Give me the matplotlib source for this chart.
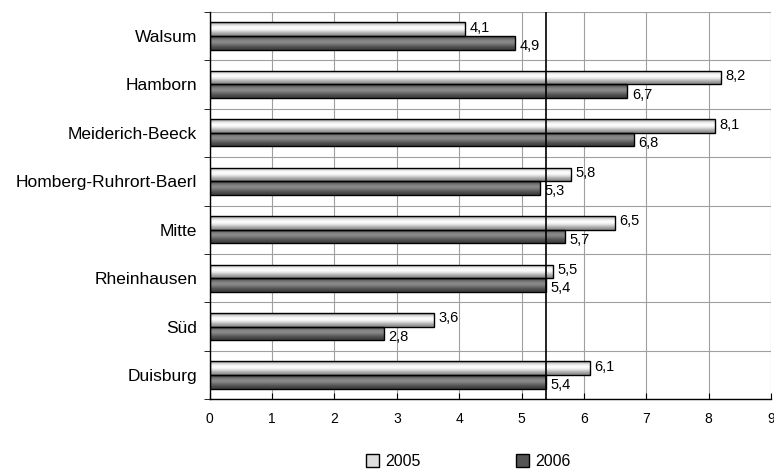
import matplotlib.pyplot as plt
from matplotlib.patches import Patch
import numpy as np

plt.rcParams['font.family'] = ['Liberation Sans', 'DejaVu Sans']

# data
bezirke = ['Walsum', 'Hamborn', 'Meiderich-Beeck', 'Homberg-Ruhrort-Baerl',
           'Mitte', 'Rheinhausen', 'Süd', 'Duisburg']
werte_2005 = [4.1, 8.2, 8.1, 5.8, 6.5, 5.5, 3.6, 6.1]
werte_2006 = [4.9, 6.7, 6.8, 5.3, 5.7, 5.4, 2.8, 5.4]
referenz = 5.4  # Duisburg 2006

fig, ax = plt.subplots(figsize=(7.74, 4.73), dpi=100)
fig.subplots_adjust(left=0.271, right=0.996, top=0.975, bottom=0.156)

y = np.arange(len(bezirke))
h = 0.28

# gradient fills (top -> bottom)
grad_hell = np.array([0.62, 0.85, 0.97, 1.0, 0.93, 0.8, 0.66, 0.55])
grad_dunkel = np.array([0.3, 0.42, 0.52, 0.55, 0.48, 0.38, 0.3, 0.25])

bars_hell = ax.barh(y - h / 2, werte_2005, height=h, facecolor='none',
                    edgecolor='black', linewidth=1, zorder=3)
bars_dunkel = ax.barh(y + h / 2, werte_2006, height=h, facecolor='none',
                      edgecolor='black', linewidth=1, zorder=3)

for bars, grad in [(bars_hell, grad_hell), (bars_dunkel, grad_dunkel)]:
    for b in bars:
        x0, y0 = b.get_x(), b.get_y()
        w, hh = b.get_width(), b.get_height()
        im = ax.imshow(grad.reshape(-1, 1), cmap='gray', vmin=0, vmax=1,
                       extent=(x0, x0 + w, y0 + hh, y0), aspect='auto',
                       interpolation='bicubic', zorder=2)
        im.set_clip_path(b)

# value labels
for yy, v in zip(y, werte_2005):
    ax.text(v + 0.07, yy - h / 2 - 0.03, f'{v:.1f}'.replace('.', ','),
            va='center', ha='left', fontsize=10.5)
for yy, v in zip(y, werte_2006):
    ax.text(v + 0.07, yy + h / 2 + 0.07, f'{v:.1f}'.replace('.', ','),
            va='center', ha='left', fontsize=10.5)

ax.axvline(referenz, color='black', linewidth=1.2, zorder=4)

ax.set_xlim(0, 9)
ax.set_ylim(len(bezirke) - 0.5, -0.5)
ax.set_xticks(range(10))
ax.set_yticks(y)
ax.set_yticklabels(bezirke, fontsize=12.5)
ax.set_yticks(np.arange(-0.5, len(bezirke)), minor=True)
ax.tick_params(axis='y', which='major', length=0, pad=9)
ax.tick_params(axis='y', which='minor', length=4, direction='out')
ax.tick_params(axis='x', length=4, direction='in', labelsize=10, pad=9)

ax.grid(axis='x', color='#a0a0a0', linewidth=0.8, zorder=0)
ax.grid(axis='y', which='minor', color='#a0a0a0', linewidth=0.8, zorder=0)
ax.set_axisbelow(True)
for s in ['top', 'right']:
    ax.spines[s].set_visible(False)
ax.spines['left'].set_linewidth(1)
ax.spines['bottom'].set_linewidth(1)

handles = [Patch(facecolor='#dddddd', edgecolor='black', label='2005'),
           Patch(facecolor='#555555', edgecolor='black', label='2006')]
fig.legend(handles=handles, loc='lower center', bbox_to_anchor=(0.605, -0.022),
           ncol=2, frameon=False, fontsize=11.5, handlelength=0.8,
           handleheight=0.8, handletextpad=0.4, columnspacing=6)

fig.savefig('out.png', dpi=100)
